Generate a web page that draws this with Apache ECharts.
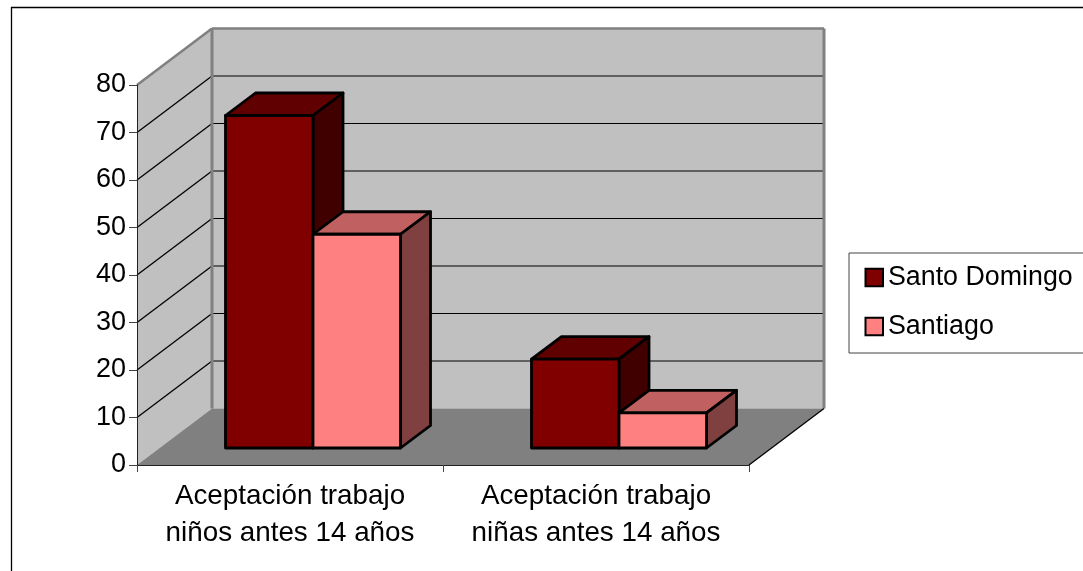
<!DOCTYPE html>
<html>
<head>
<meta charset="utf-8">
<style>
	html, body { margin: 0; padding: 0; background: #fff; }
	#myChart { width: 1083px; height: 571px; }
</style>
<script src="https://cdn.jsdelivr.net/npm/echarts@6/dist/echarts.min.js"></script>
</head>
<body>
<div id="myChart"></div>
<script>
	var categories = ['Aceptación trabajo\nniños antes 14 años', 'Aceptación trabajo\nniñas antes 14 años'];
	var santoDomingo = [70, 18.7];
	var santiago = [45, 7.4];
	var gridTicks = [10, 20, 30, 40, 50, 60, 70];

	// 3d look: how far the back wall sits from the front of the plot, and where bars stand on the floor
	var wallDx = 75, wallDy = 56.5;
	var barDx = 23, barDy = 17;
	var depthDx = 30, depthDy = 22.5;
	var barRatio = 0.286;
	var font = '"Liberation Sans", Arial, sans-serif';

	function poly(points, fill, stroke, lineWidth) {
		return {
			type: 'polygon',
			shape: { points: points },
			style: { fill: fill, stroke: stroke, lineWidth: lineWidth || 0, lineJoin: 'round' }
		};
	}

	function line(x1, y1, x2, y2, color, width) {
		return {
			type: 'line',
			shape: { x1: x1, y1: y1, x2: x2, y2: y2 },
			style: { stroke: color, lineWidth: width }
		};
	}

	function renderWalls(params, api) {
		var c = params.coordSys;
		var l = c.x, r = c.x + c.width, t = c.y, b = c.y + c.height;
		return {
			type: 'group',
			children: [
				poly([[l + wallDx, t - wallDy], [r + wallDx, t - wallDy], [r + wallDx, b - wallDy], [l + wallDx, b - wallDy]], '#c0c0c0'),
				poly([[l, t], [l + wallDx, t - wallDy], [l + wallDx, b - wallDy], [l, b]], '#c0c0c0'),
				poly([[l, b], [l + wallDx, b - wallDy], [r + wallDx, b - wallDy], [r, b]], '#808080')
			]
		};
	}

	function renderGridline(params, api) {
		var p = api.coord([0, api.value(1)]);
		var c = params.coordSys;
		return {
			type: 'group',
			children: [
				line(c.x, p[1], c.x + wallDx, p[1] - wallDy, '#000', 1.3),
				line(c.x + wallDx, p[1] - wallDy, c.x + c.width + wallDx, p[1] - wallDy, '#000', 1)
			]
		};
	}

	function renderEdges(params, api) {
		var c = params.coordSys;
		var l = c.x, r = c.x + c.width, t = c.y, b = c.y + c.height;
		return {
			type: 'group',
			children: [
				line(l, t, l + wallDx, t - wallDy, '#808080', 2.5),
				line(l + wallDx, t - wallDy, r + wallDx, t - wallDy, '#808080', 2.5),
				line(l + wallDx, t - wallDy, l + wallDx, b - wallDy, '#808080', 3),
				line(r + wallDx, t - wallDy, r + wallDx, b - wallDy, '#808080', 3),
				line(r, b, r + wallDx, b - wallDy, '#000', 1.3)
			]
		};
	}

	function barRenderer(index, front, top, side) {
		return function (params, api) {
			var cat = api.value(0);
			var base = api.coord([cat, 0]);
			var head = api.coord([cat, api.value(1)]);
			var w = api.size([1, 0])[0] * barRatio;
			var x1 = base[0] - w + index * w + barDx;
			var x2 = x1 + w;
			var y1 = head[1] - barDy;
			var y2 = base[1] - barDy;
			return {
				type: 'group',
				children: [
					poly([[x1, y1], [x1 + depthDx, y1 - depthDy], [x2 + depthDx, y1 - depthDy], [x2, y1]], top, '#000', 2.8),
					poly([[x2, y1], [x2 + depthDx, y1 - depthDy], [x2 + depthDx, y2 - depthDy], [x2, y2]], side, '#000', 2.8),
					poly([[x1, y1], [x2, y1], [x2, y2], [x1, y2]], front, '#000', 2.8)
				]
			};
		};
	}

	function toPoints(values) {
		return values.map(function (v, i) { return [i, v]; });
	}

	var myChart = echarts.init(document.getElementById('myChart'));
	myChart.setOption({
		animation: false,
		backgroundColor: '#fff',
		textStyle: { fontFamily: font },
		grid: { left: 137, right: 334, top: 85, bottom: 106 },
		legend: {
			data: [
				{ name: 'Santo Domingo', icon: 'rect' },
				{ name: 'Santiago', icon: 'rect' }
			],
			orient: 'vertical',
			left: 849,
			top: 253,
			padding: [10, 40, 12, 15.5],
			itemWidth: 17.5,
			itemHeight: 17.5,
			itemGap: 20,
			backgroundColor: '#fff',
			borderColor: '#444',
			borderWidth: 1,
			textStyle: { fontSize: 26.8, lineHeight: 29, color: '#000', fontFamily: font }
		},
		xAxis: {
			type: 'category',
			data: categories,
			z: 5,
			axisLine: { lineStyle: { color: '#222', width: 1 } },
			axisTick: { show: true, length: 7, lineStyle: { color: '#444', width: 1 } },
			axisLabel: { fontSize: 27.8, lineHeight: 37, color: '#000', margin: 13, fontFamily: font, interval: 0 },
			splitLine: { show: false }
		},
		yAxis: {
			type: 'value',
			min: 0,
			max: 80,
			interval: 10,
			z: 5,
			axisLine: { show: true, lineStyle: { color: '#222', width: 1 } },
			axisTick: { show: true, length: 8, lineStyle: { color: '#444', width: 1 } },
			axisLabel: { fontSize: 27, color: '#000', margin: 11, padding: [5, 0, 0, 0], fontFamily: font },
			splitLine: { show: false }
		},
		graphic: [
			{ type: 'line', silent: true, z: 10, shape: { x1: 11, y1: 7.5, x2: 1083, y2: 7.5 }, style: { stroke: '#000', lineWidth: 1.3 } },
			{ type: 'line', silent: true, z: 10, shape: { x1: 11.5, y1: 7, x2: 11.5, y2: 571 }, style: { stroke: '#000', lineWidth: 1.3 } }
		],
		series: [
			{ name: 'walls', type: 'custom', z: 1, silent: true, data: [[0, 0]], renderItem: renderWalls, encode: { x: 0, y: 1 } },
			{ name: 'gridlines', type: 'custom', z: 2, silent: true, data: gridTicks.map(function (v) { return [0, v]; }), renderItem: renderGridline, encode: { x: 0, y: 1 } },
			{ name: 'edges', type: 'custom', z: 3, silent: true, data: [[0, 0]], renderItem: renderEdges, encode: { x: 0, y: 1 } },
			{
				name: 'Santo Domingo',
				type: 'custom',
				z: 4,
				data: toPoints(santoDomingo),
				encode: { x: 0, y: 1 },
				itemStyle: { color: '#800000', borderColor: '#000', borderWidth: 2.5 },
				renderItem: barRenderer(0, '#800000', '#600000', '#400000')
			},
			{
				name: 'Santiago',
				type: 'custom',
				z: 4,
				data: toPoints(santiago),
				encode: { x: 0, y: 1 },
				itemStyle: { color: '#ff8080', borderColor: '#000', borderWidth: 2.5 },
				renderItem: barRenderer(1, '#ff8080', '#c06060', '#804040')
			}
		]
	});
</script>
</body>
</html>
